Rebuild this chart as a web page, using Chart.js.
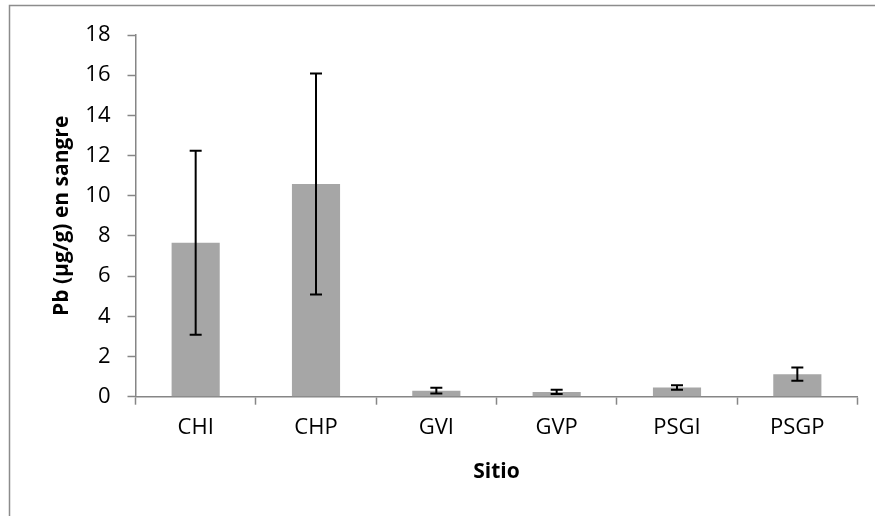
<!DOCTYPE html>
<html>
<head>
<meta charset="utf-8">
<script src="https://cdn.jsdelivr.net/npm/chart.js@4"></script>
<style>
  body { margin: 0; background: #fff; }
  canvas { display: block; }
</style>
</head>
<body>
<canvas id="chart" width="875" height="516"></canvas>
<script>
// datos
const sitios = ["CHI", "CHP", "GVI", "GVP", "PSGI", "PSGP"];
const pbMedia = [7.66, 10.59, 0.30, 0.24, 0.46, 1.12];
const pbDesv = [4.58, 5.50, 0.14, 0.11, 0.11, 0.33];
const yTicks = [0, 2, 4, 6, 8, 10, 12, 14, 16, 18];

const FONT = "'Open Sans', sans-serif";
const GRIS = "#868686";

// marco gris alrededor del gráfico
const marco = {
    id: "marco",
    beforeDraw(chart) {
        const ctx = chart.ctx;
        ctx.save();
        ctx.strokeStyle = "#8c8c8c";
        ctx.lineWidth = 1.5;
        ctx.beginPath();
        ctx.moveTo(9.5, chart.height + 5);
        ctx.lineTo(9.5, 5.5);
        ctx.lineTo(chart.width + 5, 5.5);
        ctx.stroke();
        ctx.restore();
    }
};

// barras de error (media ± desviación)
const barrasError = {
    id: "barrasError",
    afterDatasetsDraw(chart) {
        const ctx = chart.ctx;
        const x = chart.scales.x, y = chart.scales.y;
        ctx.save();
        ctx.strokeStyle = "#000";
        ctx.lineWidth = 2;
        pbMedia.forEach((m, i) => {
            const px = x.getPixelForValue(i);
            const top = y.getPixelForValue(m + pbDesv[i]);
            const bot = y.getPixelForValue(m - pbDesv[i]);
            ctx.beginPath();
            ctx.moveTo(px, top); ctx.lineTo(px, bot);
            ctx.moveTo(px - 6, top); ctx.lineTo(px + 6, top);
            ctx.moveTo(px - 6, bot); ctx.lineTo(px + 6, bot);
            ctx.stroke();
        });
        ctx.restore();
    }
};

new Chart(document.getElementById("chart"), {
    type: "bar",
    data: {
        labels: sitios,
        datasets: [{
            data: pbMedia,
            backgroundColor: "#a6a6a6",
            categoryPercentage: 1,
            barPercentage: 0.4
        }]
    },
    options: {
        responsive: false,
        animation: false,
        layout: { padding: { left: 0, top: 35, right: 17.5, bottom: 0 } },
        plugins: { legend: { display: false }, tooltip: { enabled: false } },
        scales: {
            x: {
                afterFit: s => { s.height = 119.3; },
                border: { color: GRIS, width: 1.5 },
                grid: { offset: true, drawOnChartArea: false, color: GRIS, tickLength: 8, tickWidth: 1.5 },
                ticks: { color: "#000", font: { family: FONT, size: 22 }, padding: 10 },
                title: {
                    display: true, text: "Sitio", color: "#000",
                    font: { family: FONT, size: 21, weight: "bold" },
                    padding: { top: 0, bottom: 31 }
                }
            },
            y: {
                min: 0, max: 18,
                afterFit: s => { s.width = 135.5; },
                afterBuildTicks: s => { s.ticks = yTicks.map(v => ({ value: v })); },
                border: { color: GRIS, width: 1.5 },
                grid: { drawOnChartArea: false, color: GRIS, tickLength: 8, tickWidth: 1.5 },
                ticks: { color: "#000", font: { family: FONT, size: 22 }, padding: 17 },
                title: {
                    display: true, text: "Pb (µg/g) en sangre", color: "#000",
                    font: { family: FONT, size: 21, weight: "bold" },
                    padding: { top: 49, bottom: 0 }
                }
            }
        }
    },
    plugins: [marco, barrasError]
});
</script>
</body>
</html>
